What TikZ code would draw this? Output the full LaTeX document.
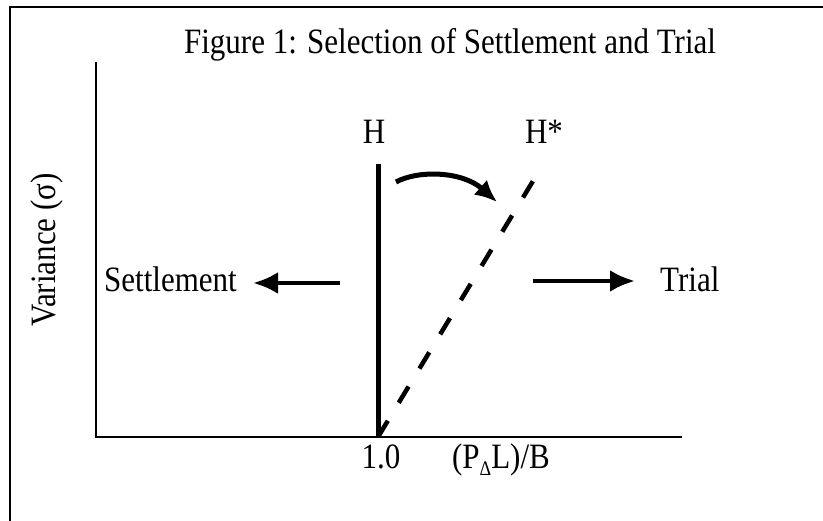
\documentclass[tikz,border=0pt]{standalone}
\usepackage{fontspec}
\setmainfont{Liberation Serif}
\usetikzlibrary{arrows.meta,positioning}
\newcommand{\talltext}[1]{\scalebox{1}[1.15]{#1}}

\begin{document}
\begin{tikzpicture}[x=1pt, y=-1pt, >={Latex[length=25pt,width=22pt]},
    lbl/.style={font=\fontsize{31}{35}\selectfont, inner sep=0pt},
    axisline/.style={line width=1.3pt},
    bigarrow/.style={->, line width=4.5pt}]
    \useasboundingbox (0,0) rectangle (823,521);
    % Frame
    \coordinate (frameBL) at (10,521);
    \coordinate (frameTL) at (10,7);
    \coordinate (frameTR) at (823,7);
    \draw[line width=1.3pt] (frameBL) -- (frameTL) -- (frameTR);
    % Title
    \node[lbl, anchor=base] (title) at (450,54) {\talltext{Figure 1: Selection of Settlement and Trial}};
    % Axes
    \coordinate (ytop) at (96,62);
    \coordinate (origin) at (96,437);
    \coordinate (xend) at (682,437);
    \draw[axisline] (ytop) -- (origin) -- (xend);
    \node[lbl, rotate=90, anchor=base] (yaxis) at (56,250) {\talltext{Variance (σ)}};
    \node[lbl, anchor=base] (one) at (381,469) {\talltext{1.0}};
    \node[lbl, anchor=base] (xaxis) at (501,469) {\talltext{(P\raisebox{-0.4ex}{\fontsize{18}{18}\selectfont Δ}L)/B}};
    % H and H*
    \coordinate (hbot) at (378,437);
    \coordinate (htop) at (378,164);
    \coordinate (hstartop) at (533,181);
    \draw[line width=5pt] (hbot) -- (htop);
    \draw[line width=4.5pt, dash pattern=on 19pt off 21pt] (hbot) -- (hstartop);
    \node[lbl, anchor=base] (hlab) at (374,144) {\talltext{H}};
    \node[lbl, anchor=base] (hstarlab) at (544,144) {\talltext{H*}};
    % Shift of H
    \coordinate (curvestart) at (396,182);
    \coordinate (curveend) at (497,202);
    \draw[bigarrow, line width=5pt, >={Latex[length=22pt,width=20pt]}] (curvestart) .. controls (418,170) and (462,171) .. (curveend);
    % Settlement and Trial
    \node[lbl, anchor=base east] (settle) at (237,292) {\talltext{Settlement}};
    \node[lbl, anchor=base west] (trial) at (660,292) {\talltext{Trial}};
    \coordinate (settlestart) at (340,283);
    \coordinate (trialstart) at (533,281);
    \draw[bigarrow, shorten >=16pt] (settlestart) -- (settlestart -| settle.east);
    \draw[bigarrow, shorten >=25pt] (trialstart) -- (trialstart -| trial.west);
\end{tikzpicture}
\end{document}
